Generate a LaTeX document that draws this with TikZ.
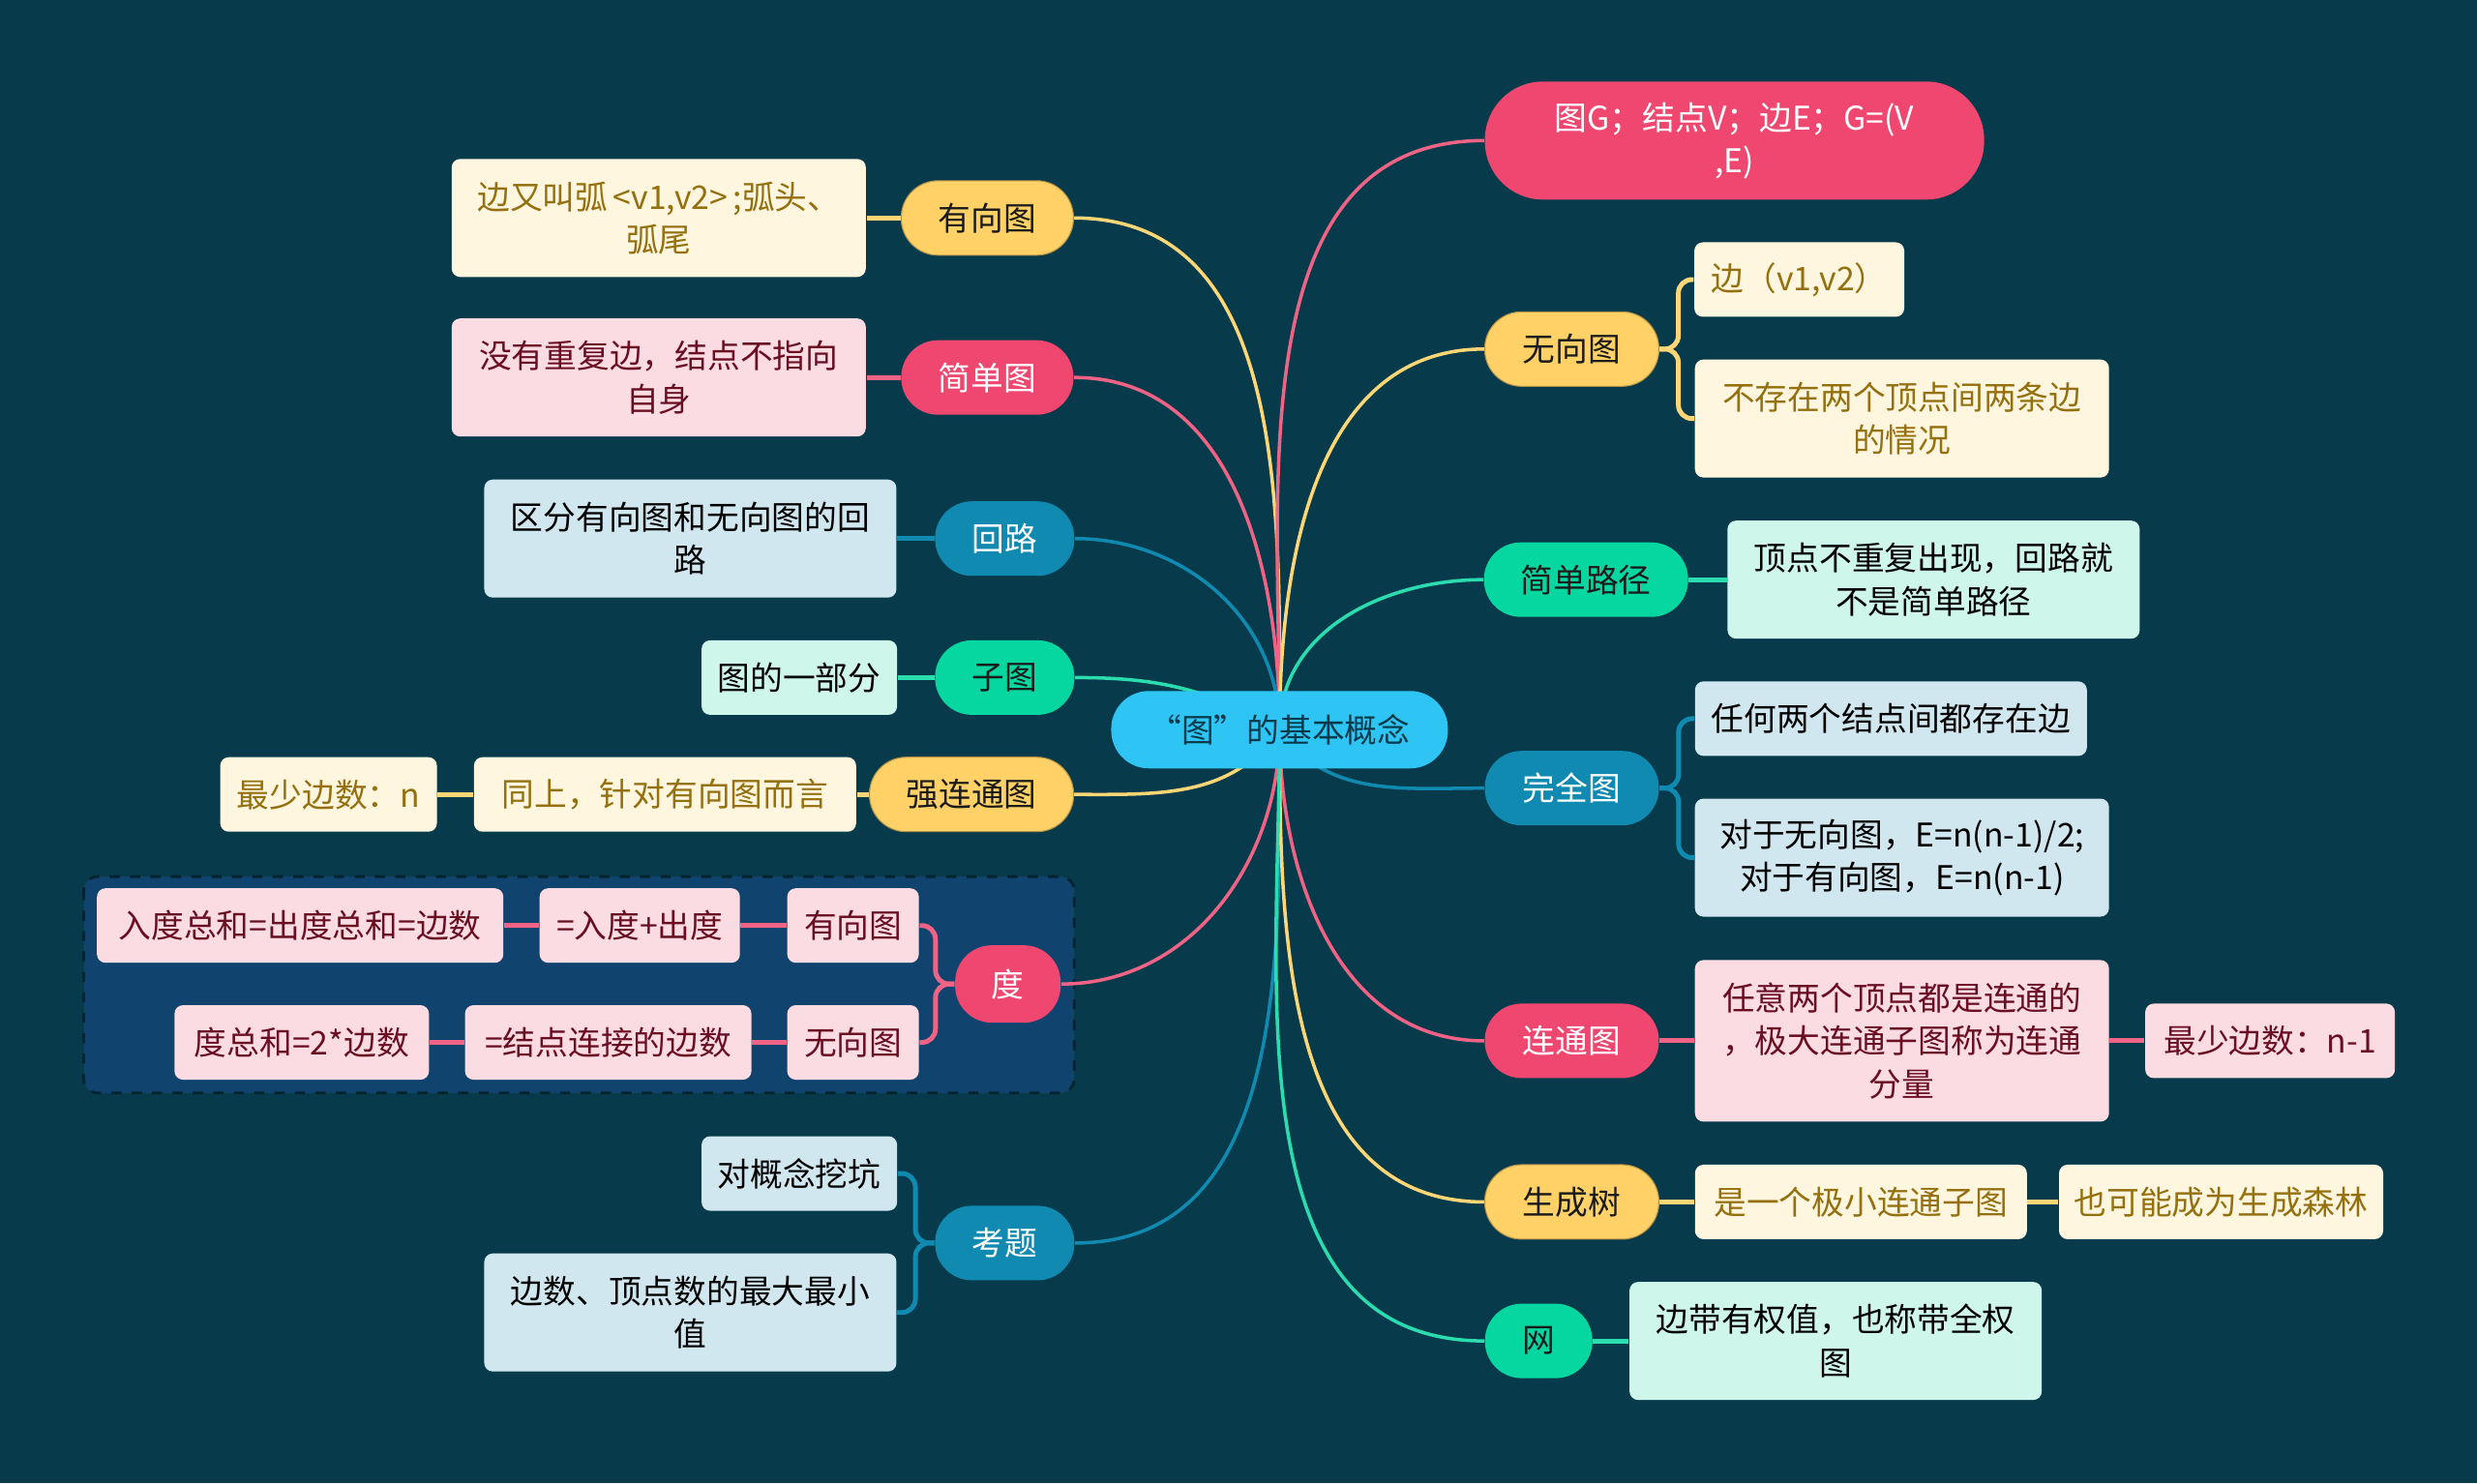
\documentclass[tikz,border=0pt]{standalone}
\usepackage{fontspec}
\usepackage{tikz}
\usetikzlibrary{positioning}
\newfontfamily\cjk{Noto Sans CJK SC}
\definecolor{gcbg}{HTML}{073B4C}
\definecolor{gcgroup}{HTML}{10446E}
\definecolor{gcroot}{HTML}{2EC5F5}
\definecolor{gcpink}{HTML}{EF476F}
\definecolor{gcyellow}{HTML}{FFD166}
\definecolor{gcgreen}{HTML}{06D6A0}
\definecolor{gcblue}{HTML}{118AB2}
\definecolor{gcpinkL}{HTML}{FCDCE3}
\definecolor{gcyellowL}{HTML}{FFF6E0}
\definecolor{gcgreenL}{HTML}{CEF6EB}
\definecolor{gcblueL}{HTML}{D0E7F0}
\definecolor{gcpinkT}{HTML}{6A0E22}
\definecolor{gcyellowT}{HTML}{94700E}
\definecolor{gcdark}{HTML}{1B1B1B}
\pgfdeclarelayer{canvas}
\pgfdeclarelayer{links}
\pgfsetlayers{canvas,links,main}
\tikzset{
  topicBox/.style={rounded corners=0.38cm, minimum height=0.77cm, inner sep=2pt, align=center, font=\cjk\fontsize{9.6}{12.5}\selectfont},
  topicPink/.style={topicBox, fill=gcpink, text=white},
  topicYellow/.style={topicBox, fill=gcyellow, text=gcdark, draw=gcyellow!70!black, line width=0.3pt},
  topicGreen/.style={topicBox, fill=gcgreen, text=gcdark},
  topicBlue/.style={topicBox, fill=gcblue, text=white},
  leafBox/.style={rounded corners=2.5pt, minimum height=0.77cm, inner sep=2pt, align=center, font=\cjk\fontsize{9.6}{12.6}\selectfont},
  leafPink/.style={leafBox, fill=gcpinkL, text=gcpinkT},
  leafYellow/.style={leafBox, fill=gcyellowL, text=gcyellowT},
  leafGreen/.style={leafBox, fill=gcgreenL, text=black},
  leafBlue/.style={leafBox, fill=gcblueL, text=black},
  linkPink/.style={line width=1pt, draw=gcpink!85!white},
  linkYellow/.style={line width=1pt, draw=gcyellow!90!white},
  linkGreen/.style={line width=1pt, draw=gcgreen!85!white},
  linkBlue/.style={line width=1pt, draw=gcblue},
  stubPink/.style={line width=1.4pt, draw=gcpink!85!white},
  stubYellow/.style={line width=1.4pt, draw=gcyellow!90!white},
  stubGreen/.style={line width=1.4pt, draw=gcgreen!85!white},
  stubBlue/.style={line width=1.4pt, draw=gcblue}
}

\begin{document}
\begin{tikzpicture}[x=0.016327cm, y=-0.016327cm]
  \begin{pgfonlayer}{canvas}
    \fill[gcbg] (0,0) rectangle (1568,939);
    \draw[fill=gcgroup, draw=gcbg!60!black, dashed, line width=0.8pt, rounded corners=4pt] (53,555) rectangle (680,692);
  \end{pgfonlayer}

  \node[topicBox, fill=gcroot, text=gcbg, minimum width=3.48cm, minimum height=0.80cm, rounded corners=0.39cm] (root) at (810,462) {“图”的基本概念};

  \node[topicYellow, minimum width=1.78cm] (dirG) at (625,138) {有向图};
  \node[leafYellow, minimum width=4.28cm, minimum height=1.22cm] (dirGNote) at (417,138) {边又叫弧\,<v1,v2>\,;弧头、\\弧尾};
  \node[topicPink, minimum width=1.78cm] (simpG) at (625,239) {简单图};
  \node[leafPink, minimum width=4.28cm, minimum height=1.22cm] (simpGNote) at (417,239) {没有重复边，结点不指向\\自身};
  \node[topicBlue, minimum width=1.44cm] (cycle) at (636,341) {回路};
  \node[leafBlue, minimum width=4.26cm, minimum height=1.22cm] (cycleNote) at (437,341) {区分有向图和无向图的回\\路};
  \node[topicGreen, minimum width=1.44cm] (subG) at (636,429) {子图};
  \node[leafGreen, minimum width=2.02cm] (subGNote) at (506,429) {图的一部分};
  \node[topicYellow, minimum width=2.11cm] (strong) at (615,503) {强连通图};
  \node[leafYellow, minimum width=3.95cm] (strongNote) at (421,503) {同上，针对有向图而言};
  \node[leafYellow, minimum width=2.24cm] (strongMin) at (208,503) {最少边数：n};
  \node[topicPink, minimum width=1.09cm, minimum height=0.80cm] (deg) at (638,623) {度};
  \node[leafPink, minimum width=1.36cm] (degDir) at (540,586) {有向图};
  \node[leafPink, minimum width=2.07cm] (degDirA) at (405,586) {=入度+出度};
  \node[leafPink, minimum width=4.20cm] (degDirB) at (190,586) {入度总和=出度总和=边数};
  \node[leafPink, minimum width=1.36cm] (degUnd) at (540,660) {无向图};
  \node[leafPink, minimum width=2.96cm] (degUndA) at (385,660) {=结点连接的边数};
  \node[leafPink, minimum width=2.63cm] (degUndB) at (191,660) {度总和=2*边数};
  \node[topicBlue, minimum width=1.44cm] (exam) at (636,787) {考题};
  \node[leafBlue, minimum width=2.02cm] (examA) at (506,743) {对概念挖坑};
  \node[leafBlue, minimum width=4.26cm, minimum height=1.22cm] (examB) at (437,831) {边数、顶点数的最大最小\\值};

  \node[topicPink, minimum width=5.16cm, minimum height=1.22cm, rounded corners=0.6cm] (defG) at (1098,89) {图G；结点V；边E；G=(V\\,E)};
  \node[topicYellow, minimum width=1.80cm] (undG) at (995,221) {无向图};
  \node[leafYellow, minimum width=2.17cm] (undGA) at (1139,177) {边（v1,v2）};
  \node[leafYellow, minimum width=4.28cm, minimum height=1.22cm] (undGB) at (1204,265) {不存在两个顶点间两条边\\的情况};
  \node[topicGreen, minimum width=2.11cm] (path) at (1004,367) {简单路径};
  \node[leafGreen, minimum width=4.26cm, minimum height=1.22cm] (pathNote) at (1224,367) {顶点不重复出现，回路就\\不是简单路径};
  \node[topicBlue, minimum width=1.80cm] (full) at (995,499) {完全图};
  \node[leafBlue, minimum width=4.05cm] (fullA) at (1197,455) {任何两个结点间都存在边};
  \node[leafBlue, minimum width=4.28cm, minimum height=1.22cm] (fullB) at (1204,543) {对于无向图，E=n(n-1)/2;\\对于有向图，E=n(n-1)};
  \node[topicPink, minimum width=1.80cm] (conn) at (995,659) {连通图};
  \node[leafPink, minimum width=4.28cm, minimum height=1.67cm] (connNote) at (1204,659) {任意两个顶点都是连通的\\，极大连通子图称为连通\\分量};
  \node[leafPink, minimum width=2.58cm] (connMin) at (1437,659) {最少边数：n-1};
  \node[topicYellow, minimum width=1.80cm] (tree) at (995,761) {生成树};
  \node[leafYellow, minimum width=3.43cm] (treeA) at (1178,761) {是一个极小连通子图};
  \node[leafYellow, minimum width=3.35cm] (treeB) at (1406,761) {也可能成为生成森林};
  \node[topicGreen, minimum width=1.11cm] (net) at (974,849) {网};
  \node[leafGreen, minimum width=4.26cm, minimum height=1.22cm] (netNote) at (1162,849) {边带有权值，也称带全权\\图};

  \begin{pgfonlayer}{links}
    \draw[linkYellow] (root.center) to[out=90,in=0] (dirG.east);
    \draw[linkPink] (root.center) to[out=90,in=0] (simpG.east);
    \draw[linkBlue] (root.center) to[out=90,in=0] (cycle.east);
    \draw[linkGreen] (root.center) to[out=150,in=0] (subG.east);
    \draw[linkYellow] (root.center) to[out=-125,in=0] (strong.east);
    \draw[linkPink] (root.center) to[out=-90,in=0] (deg.east);
    \draw[linkBlue] (root.center) to[out=-90,in=0] (exam.east);
    \draw[linkPink] (root.center) to[out=90,in=180] (defG.west);
    \draw[linkYellow] (root.center) to[out=90,in=180] (undG.west);
    \draw[linkGreen] (root.center) to[out=90,in=180] (path.west);
    \draw[linkBlue] (root.center) to[out=-55,in=180] (full.west);
    \draw[linkPink] (root.center) to[out=-90,in=180] (conn.west);
    \draw[linkYellow] (root.center) to[out=-90,in=180] (tree.west);
    \draw[linkGreen] (root.center) to[out=-90,in=180] (net.west);
  \end{pgfonlayer}

  \draw[stubYellow] (dirG.west) -- (dirGNote.east);
  \draw[stubPink] (simpG.west) -- (simpGNote.east);
  \draw[stubBlue] (cycle.west) -- (cycleNote.east);
  \draw[stubGreen] (subG.west) -- (subGNote.east);
  \draw[stubYellow] (strong.west) -- (strongNote.east) (strongNote.west) -- (strongMin.east);
  \draw[stubPink, rounded corners=4pt] (deg.west) -- ++(-12,0) |- (degDir.east);
  \draw[stubPink, rounded corners=4pt] (deg.west) -- ++(-12,0) |- (degUnd.east);
  \draw[stubPink] (degDir.west) -- (degDirA.east) (degDirA.west) -- (degDirB.east);
  \draw[stubPink] (degUnd.west) -- (degUndA.east) (degUndA.west) -- (degUndB.east);
  \draw[stubBlue, rounded corners=4pt] (exam.west) -- ++(-12,0) |- (examA.east);
  \draw[stubBlue, rounded corners=4pt] (exam.west) -- ++(-12,0) |- (examB.east);
  \draw[stubYellow, rounded corners=4pt] (undG.east) -- ++(12,0) |- (undGA.west);
  \draw[stubYellow, rounded corners=4pt] (undG.east) -- ++(12,0) |- (undGB.west);
  \draw[stubGreen] (path.east) -- (pathNote.west);
  \draw[stubBlue, rounded corners=4pt] (full.east) -- ++(12,0) |- (fullA.west);
  \draw[stubBlue, rounded corners=4pt] (full.east) -- ++(12,0) |- (fullB.west);
  \draw[stubPink] (conn.east) -- (connNote.west) (connNote.east) -- (connMin.west);
  \draw[stubYellow] (tree.east) -- (treeA.west) (treeA.east) -- (treeB.west);
  \draw[stubGreen] (net.east) -- (netNote.west);
\end{tikzpicture}
\end{document}
